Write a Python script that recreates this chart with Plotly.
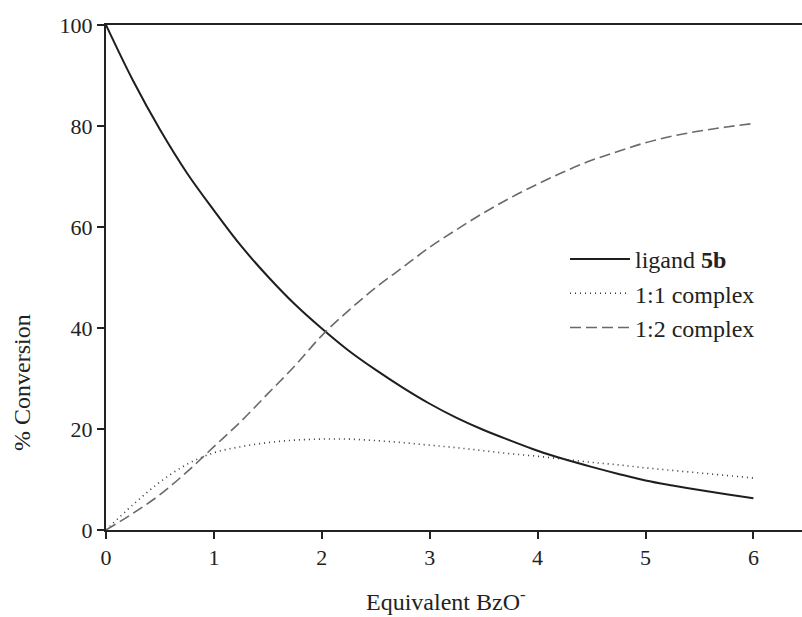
import plotly.graph_objects as go

x_eq = [0, 0.25, 0.5, 0.75, 1, 1.25, 1.5, 1.75, 2, 2.25, 2.5, 2.75, 3,
        3.25, 3.5, 3.75, 4, 4.25, 4.5, 4.75, 5, 5.25, 5.5, 5.75, 6]
ligand_5b = [100, 89.0, 79.3, 70.7, 63.3, 56.3, 50.2, 44.7, 39.9, 35.5, 31.7, 28.2, 25.0,
             22.2, 19.8, 17.7, 15.7, 14.0, 12.5, 11.1, 9.8, 8.8, 7.9, 7.1, 6.3]
complex_11 = [0, 5.0, 9.5, 13.0, 15.3, 16.5, 17.3, 17.8, 18.0, 18.0, 17.7, 17.3, 16.8,
              16.3, 15.7, 15.1, 14.6, 14.0, 13.4, 12.9, 12.3, 11.8, 11.3, 10.8, 10.3]
complex_12 = [0, 3.3, 7.0, 11.5, 16.5, 21.5, 27.0, 32.5, 38.5, 43.5, 48.0, 52.0, 56.0,
              59.5, 62.8, 65.8, 68.5, 71.0, 73.2, 75.0, 76.7, 78.0, 79.0, 79.8, 80.5]
x_ticks = [0, 1, 2, 3, 4, 5, 6]
y_ticks = [0, 20, 40, 60, 80, 100]

FONT = "Liberation Serif"
INK = "#222222"

fig = go.Figure()
fig.add_trace(go.Scatter(x=x_eq, y=ligand_5b, mode="lines", name="ligand <b>5b</b>",
                         line=dict(color="#1e1e1e", width=2, shape="spline")))
fig.add_trace(go.Scatter(x=x_eq, y=complex_11, mode="lines", name="1:1 complex",
                         line=dict(color="#333333", width=1.6, dash="1px,4px", shape="spline")))
fig.add_trace(go.Scatter(x=x_eq, y=complex_12, mode="lines", name="1:2 complex",
                         line=dict(color="#6a6a6a", width=1.6, dash="11px,5px", shape="spline")))

PW, PH = 696, 505  # plot area in px

fig.update_layout(
    width=802, height=617,
    margin=dict(l=106, r=0, t=25, b=87),
    paper_bgcolor="white", plot_bgcolor="white",
    font=dict(family=FONT, size=22, color=INK),
    showlegend=True,
    legend=dict(x=(565 - 106) / PW, y=(530 - 237) / PH, xanchor="left", yanchor="top",
                bgcolor="rgba(0,0,0,0)", itemwidth=60,
                font=dict(family=FONT, size=24, color=INK),
                tracegroupgap=0),
    xaxis=dict(range=[0, PW / 107.9], tickvals=x_ticks, ticks="outside", ticklen=7,
               tickwidth=2, tickcolor=INK, showline=True, linewidth=2, linecolor=INK,
               mirror=True, showgrid=False, zeroline=False,
               tickfont=dict(family=FONT, size=22, color=INK)),
    yaxis=dict(range=[0, 100], tickvals=y_ticks, ticks="outside", ticklen=7,
               tickwidth=2, tickcolor=INK, showline=True, linewidth=2, linecolor=INK,
               showgrid=False, zeroline=False,
               tickfont=dict(family=FONT, size=22, color=INK)),
    annotations=[
        dict(text="Equivalent BzO<sup>-</sup>", x=(446 - 106) / PW, xref="paper",
             y=(530 - 600) / PH, yref="paper",
             showarrow=False, xanchor="center", yanchor="middle",
             font=dict(family=FONT, size=24, color=INK)),
        dict(text="% Conversion", x=(22 - 106) / PW, xref="paper",
             y=(530 - 383) / PH, yref="paper",
             showarrow=False, textangle=-90, xanchor="center", yanchor="middle",
             font=dict(family=FONT, size=24, color=INK)),
    ],
)

fig.write_html("out.html")
